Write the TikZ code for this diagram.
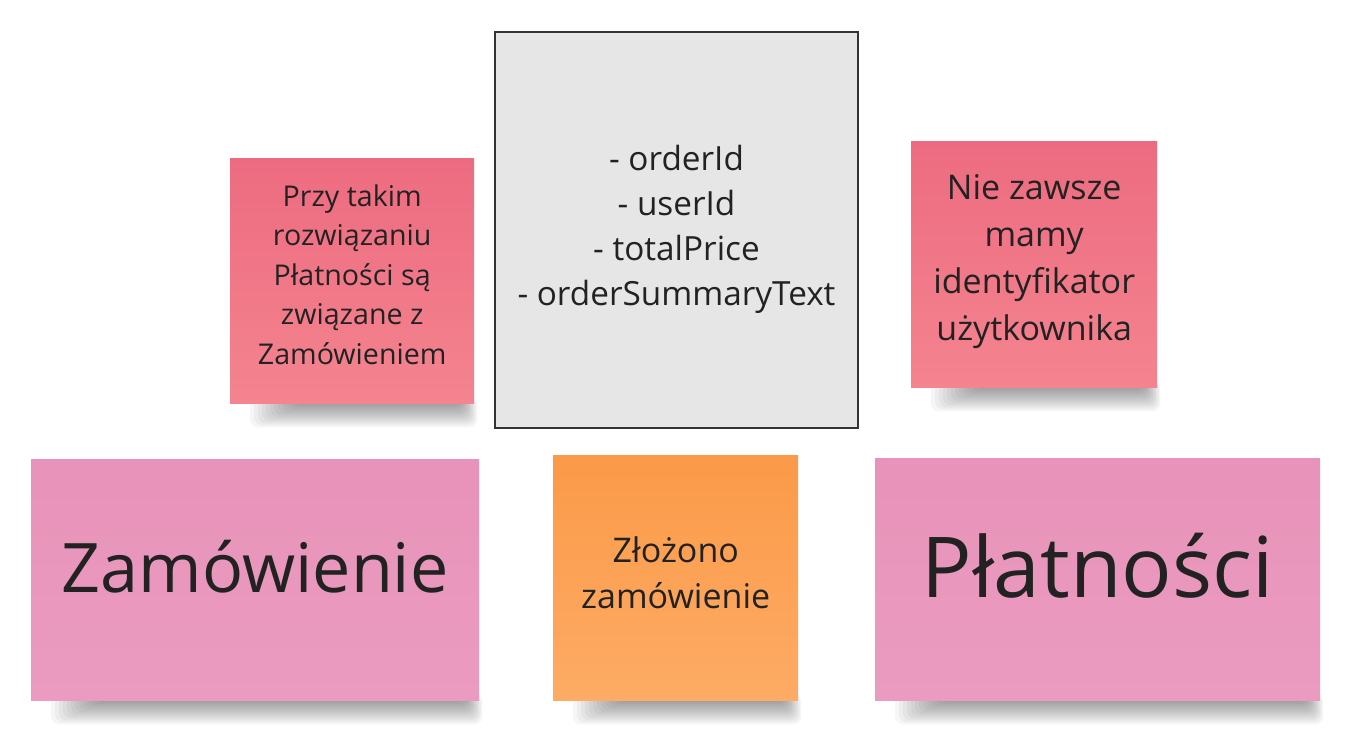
\documentclass[tikz,border=0pt]{standalone}
\usepackage{fontspec}
\setmainfont{Open Sans}
\usetikzlibrary{backgrounds,calc}
\definecolor{txt}{HTML}{222222}
\definecolor{redtop}{HTML}{ED6B80}
\definecolor{redbot}{HTML}{F4848F}
\definecolor{pinktop}{HTML}{E893B9}
\definecolor{pinkbot}{HTML}{EB9BC0}
\definecolor{orgtop}{HTML}{FB9A48}
\definecolor{orgbot}{HTML}{FDAB65}
\definecolor{grayfill}{HTML}{E6E6E6}
\definecolor{grayline}{HTML}{333333}
\tikzset{
  note/.style={anchor=north west, inner sep=0pt},
  rednote/.style={note, top color=redtop, bottom color=redbot},
  pinknote/.style={note, top color=pinktop, bottom color=pinkbot},
  orgnote/.style={note, top color=orgtop, bottom color=orgbot},
  graybox/.style={note, fill=grayfill, draw=grayline, line width=2pt},
  notetext/.style={inner sep=0pt, align=center, text=txt},
  shadowlayer/.style={fill=black, opacity=0.035, rounded corners=8pt},
}
\begin{document}
\begin{tikzpicture}[x=1pt,y=-1pt]
\useasboundingbox (0,0) rectangle (1353,738);
\node[graybox, minimum width=363pt, minimum height=396pt] (attrs) at (494,31) {};
\node[rednote, minimum width=244pt, minimum height=245pt] (przy) at (230,158) {};
\node[rednote, minimum width=246pt, minimum height=246pt] (nie) at (911,141) {};
\node[pinknote, minimum width=448pt, minimum height=241pt] (zam) at (31,459) {};
\node[orgnote, minimum width=245pt, minimum height=245pt] (zlo) at (553,455) {};
\node[pinknote, minimum width=445pt, minimum height=242pt] (plat) at (875,458) {};

\node[notetext, font={\fontsize{33.3}{45}\selectfont}] (attrsT) at ($(attrs.center)+(0,-1)$)
  {- orderId\\- userId\\- totalPrice\\- orderSummaryText};
\node[notetext, font={\fontsize{28.6}{39.5}\selectfont}] (przyT) at ($(przy.center)+(0,-6)$)
  {Przy takim\\rozwiązaniu\\Płatności są\\związane z\\Zamówieniem};
\node[notetext, font={\fontsize{34}{47}\selectfont}] (nieT) at ($(nie.center)+(0,-3)$)
  {Nie zawsze\\mamy\\identyfikator\\użytkownika};
\node[notetext, font={\fontsize{68.3}{80}\selectfont}] (zamT) at ($(zam.center)+(0,-13)$)
  {Zamówienie};
\node[notetext, font={\fontsize{34}{46}\selectfont}] (zloT) at ($(zlo.center)+(0,-5)$)
  {Złożono\\zamówienie};
\node[notetext, font={\fontsize{84}{90}\selectfont}] (platT) at ($(plat.center)+(0,-13)$)
  {Płatności};

\begin{scope}[on background layer]
  \fill[white] (0,0) rectangle (1353,738);
  \foreach \n in {przy,nie,zam,zlo,plat}{%
    \foreach \i in {1,...,12}{%
      \path[shadowlayer]
        ($(\n.south west) + ({20+4*(12-\i)},-6)$) rectangle ($(\n.south east) + ({3-1.5*(12-\i)},{2*\i})$);
    }
  }
\end{scope}
\end{tikzpicture}
\end{document}
